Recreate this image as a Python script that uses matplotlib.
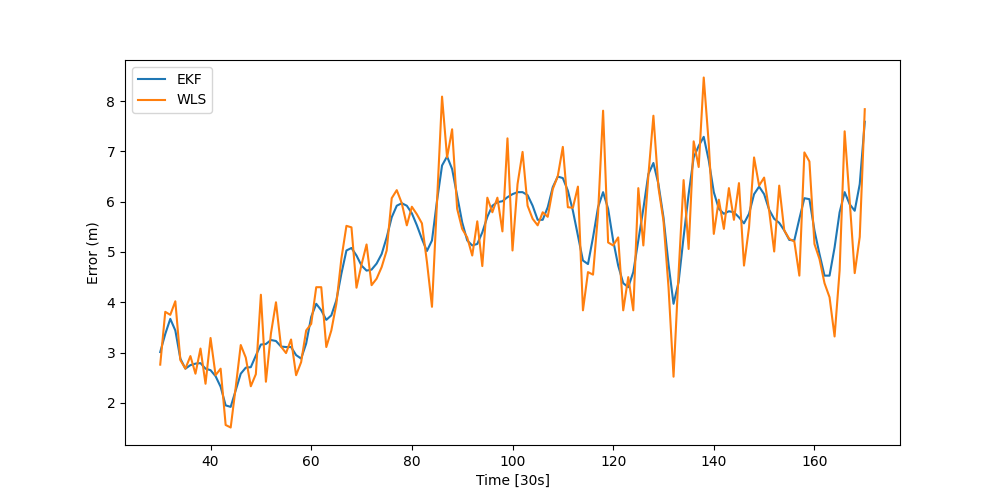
import numpy as np
import matplotlib
matplotlib.use('Agg')
import matplotlib.pyplot as plt

time = np.arange(30, 171)

ekf = [3.01, 3.37, 3.67, 3.44, 2.88, 2.68, 2.75, 2.78, 2.79, 2.68,
       2.65, 2.53, 2.32, 1.95, 1.92, 2.25, 2.58, 2.70, 2.71, 2.94,
       3.16, 3.17, 3.25, 3.23, 3.12, 3.11, 3.11, 2.95, 2.88, 3.18,
       3.71, 3.97, 3.84, 3.65, 3.74, 4.04, 4.57, 5.03, 5.08, 4.93,
       4.73, 4.63, 4.65, 4.77, 4.96, 5.29, 5.69, 5.92, 5.97, 5.92,
       5.77, 5.53, 5.26, 5.02, 5.23, 6.02, 6.72, 6.90, 6.65, 6.12,
       5.59, 5.23, 5.13, 5.16, 5.39, 5.70, 5.92, 5.99, 6.01, 6.09,
       6.15, 6.19, 6.19, 6.13, 5.92, 5.64, 5.64, 5.89, 6.29, 6.50,
       6.47, 6.22, 5.82, 5.33, 4.83, 4.76, 5.29, 5.89, 6.19, 5.86,
       5.23, 4.73, 4.38, 4.30, 4.60, 5.23, 5.86, 6.55, 6.77, 6.35,
       5.69, 4.76, 3.97, 4.40, 5.30, 6.15, 6.88, 7.11, 7.29, 6.82,
       6.19, 5.86, 5.76, 5.81, 5.79, 5.69, 5.57, 5.76, 6.15, 6.30,
       6.15, 5.84, 5.66, 5.58, 5.43, 5.24, 5.23, 5.66, 6.07, 6.05,
       5.43, 4.96, 4.53, 4.53, 5.09, 5.79, 6.19, 5.95, 5.82, 6.35,
       7.59]

wls = [2.76, 3.81, 3.75, 4.02, 2.85, 2.68, 2.93, 2.58, 3.08, 2.38,
       3.29, 2.55, 2.68, 1.56, 1.51, 2.31, 3.15, 2.90, 2.33, 2.57,
       4.15, 2.42, 3.38, 4.00, 3.12, 2.99, 3.26, 2.55, 2.81, 3.44,
       3.57, 4.30, 4.30, 3.11, 3.44, 3.97, 4.87, 5.52, 5.49, 4.29,
       4.75, 5.15, 4.34, 4.47, 4.70, 5.03, 6.07, 6.23, 5.97, 5.53,
       5.90, 5.75, 5.57, 4.80, 3.91, 6.02, 8.09, 6.88, 7.44, 5.86,
       5.46, 5.29, 4.93, 5.61, 4.72, 6.08, 5.79, 6.08, 5.41, 7.26,
       5.03, 6.35, 6.99, 5.92, 5.66, 5.53, 5.79, 5.70, 6.25, 6.51,
       7.09, 5.89, 5.88, 6.30, 3.84, 4.60, 4.55, 5.76, 7.81, 5.19,
       5.13, 5.29, 3.84, 4.50, 3.84, 6.27, 5.13, 6.52, 7.71, 6.28,
       5.62, 4.30, 2.52, 4.57, 6.43, 5.06, 7.20, 6.69, 8.47, 7.15,
       5.36, 6.04, 5.46, 6.27, 5.64, 6.37, 4.73, 5.49, 6.88, 6.32,
       6.48, 5.82, 5.01, 6.32, 5.43, 5.26, 5.21, 4.53, 6.98, 6.80,
       5.16, 4.86, 4.38, 4.10, 3.32, 4.63, 7.40, 6.02, 4.58, 5.30,
       7.84]

fig, ax = plt.subplots(figsize=(10, 5), dpi=100)
ax.plot(time, ekf, label='EKF')
ax.plot(time, wls, label='WLS')
ax.set_xlabel('Time [30s]')
ax.set_ylabel('Error (m)')
ax.legend(loc='upper left')

fig.savefig('out.png')
